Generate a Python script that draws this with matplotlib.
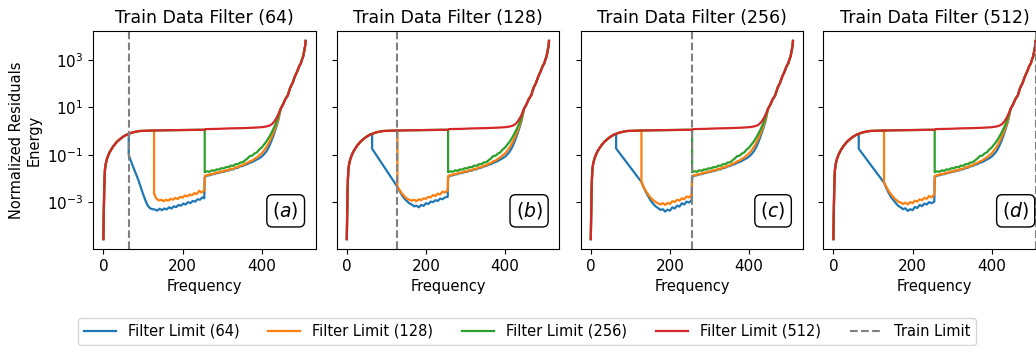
import numpy as np
import matplotlib
matplotlib.use("Agg")
import matplotlib.pyplot as plt
from matplotlib.ticker import FixedLocator, NullLocator

# ---------------- data (log10 of normalized residual energy) ----------------
panel_titles = ["Train Data Filter (64)", "Train Data Filter (128)",
                "Train Data Filter (256)", "Train Data Filter (512)"]
train_limits = [64, 128, 256, 512]
panel_tags = ["(a)", "(b)", "(c)", "(d)"]
series_labels = ["Filter Limit (64)", "Filter Limit (128)",
                 "Filter Limit (256)", "Filter Limit (512)"]
series_colors = ["#1f77b4", "#ff7f0e", "#2ca02c", "#d62728"]

# Filter Limit (512) curve (shared by all panels)
red_freq = [0, 1, 2, 3, 4, 6, 9, 13, 17, 22,
            28, 34, 42, 50, 58, 64, 72, 82, 92, 110,
            128, 160, 200, 240, 256, 258, 290, 320, 350, 380,
            400, 412, 420, 426, 432, 438, 442, 448, 454, 460,
            466, 472, 478, 484, 490, 495, 499, 502, 505, 508,
            510, 511]
red_log = [-4.56, -3.4, -2.5, -1.95, -1.62, -1.38, -1.18, -1.0, -0.86, -0.72,
           -0.58, -0.46, -0.34, -0.24, -0.16, -0.12, -0.07, -0.03, 0.0, 0.01,
           0.02, 0.03, 0.04, 0.05, 0.05, 0.08, 0.09, 0.11, 0.12, 0.14,
           0.16, 0.19, 0.23, 0.29, 0.40, 0.56, 0.70, 0.94, 1.12, 1.35,
           1.50, 1.82, 2.02, 2.30, 2.52, 2.74, 2.85, 3.02, 3.15, 3.42,
           3.60, 3.80]

# high-frequency segment (after 256) shared by the lower curves
tail_freq = [256, 262, 268, 274, 280, 286, 292, 298, 304, 310,
             316, 322, 328, 334, 340, 346, 352, 358, 364, 370,
             376, 382, 388, 394, 400, 406, 412, 418, 424, 430,
             436, 442]
green_tail = [-1.74, -1.70, -1.72, -1.66, -1.68, -1.62, -1.63, -1.57, -1.58, -1.52,
              -1.53, -1.46, -1.47, -1.40, -1.40, -1.33, -1.32, -1.24, -1.16, -1.06,
              -1.04, -0.95, -0.90, -0.78, -0.70, -0.57, -0.44, -0.28, -0.10, 0.10,
              0.32, 0.60]
orange_tail = [-1.90, -1.86, -1.84, -1.81, -1.80, -1.75, -1.76, -1.70, -1.71, -1.65,
               -1.66, -1.59, -1.60, -1.53, -1.53, -1.46, -1.45, -1.38, -1.35, -1.28,
               -1.25, -1.17, -1.12, -1.02, -0.95, -0.82, -0.68, -0.50, -0.30, -0.06,
               0.20, 0.50]
blue_tail = [-1.95, -1.88, -1.87, -1.83, -1.82, -1.78, -1.77, -1.73, -1.72, -1.68,
             -1.67, -1.62, -1.62, -1.56, -1.55, -1.49, -1.48, -1.42, -1.40, -1.34,
             -1.31, -1.26, -1.20, -1.15, -1.08, -0.98, -0.86, -0.68, -0.45, -0.18,
             0.12, 0.45]

# mid-frequency segments (per panel)
low_freq = [128, 134, 140, 146, 152, 158, 164, 170, 176, 182,
            188, 194, 200, 206, 212, 218, 224, 230, 236, 242,
            248, 255]

blue_a_freq = [64, 68, 72, 76, 82, 88, 94, 100, 106, 112,
               118, 124, 130, 136, 142, 148, 154, 160, 166, 172,
               178, 184, 190, 196, 202, 208, 214, 220, 226, 232,
               238, 244, 250, 255]
blue_a = [-1.0, -1.2, -1.38, -1.55, -1.8, -2.05, -2.35, -2.65, -2.92, -3.15,
          -3.26, -3.3, -3.31, -3.36, -3.28, -3.34, -3.27, -3.31, -3.22, -3.27,
          -3.18, -3.21, -3.12, -3.15, -3.06, -3.1, -3.0, -3.04, -2.95, -2.98,
          -2.88, -2.9, -2.8, -2.84]
orange_a = [-2.65, -2.85, -2.93, -2.9, -2.96, -2.9, -2.94, -2.86, -2.9, -2.82,
            -2.87, -2.78, -2.81, -2.72, -2.76, -2.68, -2.71, -2.62, -2.66, -2.52,
            -2.6, -2.5]

blue_b = [-0.75, -2.36, -2.55, -2.72, -2.86, -2.96, -3.05, -3.1, -3.18, -3.15, -3.22,
          -3.12, -3.16, -3.05, -3.08, -2.98, -3.0, -2.92, -2.95, -2.85, -2.88,
          -2.8, -2.78]
orange_b = [-2.36, -2.5, -2.65, -2.76, -2.85, -2.9, -2.94, -2.9, -2.96, -2.88,
            -2.92, -2.84, -2.86, -2.78, -2.8, -2.7, -2.74, -2.64, -2.68, -2.55,
            -2.6, -2.5]

blue_c = [-0.74, -2.15, -2.4, -2.6, -2.78, -2.95, -3.08, -3.18, -3.25, -3.33, -3.3,
          -3.4, -3.32, -3.36, -3.22, -3.27, -3.15, -3.19, -3.05, -3.1, -2.98,
          -3.02, -2.92]
orange_c = [-2.15, -2.38, -2.55, -2.7, -2.83, -2.92, -3.0, -3.05, -3.1, -3.04,
            -3.12, -3.03, -3.08, -2.96, -3.0, -2.9, -2.94, -2.84, -2.88, -2.76,
            -2.8, -2.7]

blue_d = [-0.75, -2.18, -2.42, -2.62, -2.8, -2.92, -3.05, -3.16, -3.22, -3.3, -3.26,
          -3.37, -3.3, -3.34, -3.2, -3.25, -3.12, -3.17, -3.06, -3.1, -3.0,
          -3.05, -2.98]
orange_d = [-2.18, -2.36, -2.54, -2.68, -2.8, -2.9, -2.98, -3.02, -3.08, -3.02,
            -3.1, -3.0, -3.05, -2.94, -2.98, -2.88, -2.92, -2.82, -2.86, -2.74,
            -2.8, -2.68]

join_freq = 448  # lower curves merge back onto the 512 curve from here

# ---------------- assemble curves ----------------
def red_part(lo=None, hi=None):
    f, v = [], []
    for x, y in zip(red_freq, red_log):
        if (lo is None or x >= lo) and (hi is None or x <= hi):
            f.append(x)
            v.append(y)
    return f, v


def compose(limit, seg_f, seg_v, tail_v):
    f1, v1 = red_part(hi=limit)
    f3, v3 = red_part(lo=join_freq)
    f = f1 + list(seg_f) + list(tail_freq) + f3
    v = v1 + list(seg_v) + list(tail_v) + v3
    return np.array(f), 10.0 ** np.array(v)


blue_segments = [(blue_a_freq, blue_a), ([64] + low_freq, blue_b),
                 ([64] + low_freq, blue_c), ([64] + low_freq, blue_d)]
orange_segments = [(low_freq, orange_a), (low_freq, orange_b),
                   (low_freq, orange_c), (low_freq, orange_d)]

# ---------------- figure ----------------
W, H = 1036, 346
fig = plt.figure(figsize=(W / 100, H / 100), dpi=100)

ax_lefts = [93.3, 336.7, 580.7, 823.3]
ax_w, ax_top, ax_bottom = 222.4, 31, 249

axes = []
for i in range(4):
    ax = fig.add_axes([ax_lefts[i] / W, 1 - ax_bottom / H,
                       ax_w / W, (ax_bottom - ax_top) / H],
                      sharey=axes[0] if axes else None)
    axes.append(ax)

    bf, bv = compose(64, *blue_segments[i], blue_tail)
    of, ov = compose(128, *orange_segments[i], orange_tail)
    gf1, gv1 = red_part(hi=256)
    gf3, gv3 = red_part(lo=join_freq)
    gf = np.array(gf1 + tail_freq + gf3)
    gv = 10.0 ** np.array(gv1 + green_tail + gv3)
    rf = np.array(red_freq)
    rv = 10.0 ** np.array(red_log)

    ax.plot(bf, bv, color=series_colors[0], lw=1.6, label=series_labels[0])
    ax.plot(of, ov, color=series_colors[1], lw=1.6, label=series_labels[1])
    ax.plot(gf, gv, color=series_colors[2], lw=1.6, label=series_labels[2])
    ax.plot(rf, rv, color=series_colors[3], lw=1.6, label=series_labels[3])
    ax.axvline(train_limits[i], color="gray", ls="--", lw=1.5, label="Train Limit")

    ax.set_yscale("log")
    ax.yaxis.set_major_locator(FixedLocator([1e-3, 1e-1, 1e1, 1e3]))
    ax.yaxis.set_minor_locator(NullLocator())
    ax.set_xticks([0, 200, 400])
    ax.tick_params(labelsize=11)
    ax.set_title(panel_titles[i], fontsize=12.5)
    ax.set_xlabel("Frequency", fontsize=10.5)
    if i > 0:
        ax.tick_params(labelleft=False)
    tag = panel_tags[i]
    ax.text(0.865, 0.175, r"$(" + tag[1] + r")$", transform=ax.transAxes,
            ha="center", va="center", fontsize=13.5,
            bbox=dict(boxstyle="round,pad=0.3", fc="white", ec="black", lw=1.0))

axes[0].set_ylabel("Normalized Residuals\nEnergy", fontsize=10.5)

handles, labels = axes[0].get_legend_handles_labels()
fig.legend(handles, labels, loc="center", ncol=5, fontsize=10.5,
           handlelength=2.2,
           bbox_to_anchor=(527 / W, 1 - 331.5 / H), frameon=True)

fig.savefig("out.png", dpi=100)
